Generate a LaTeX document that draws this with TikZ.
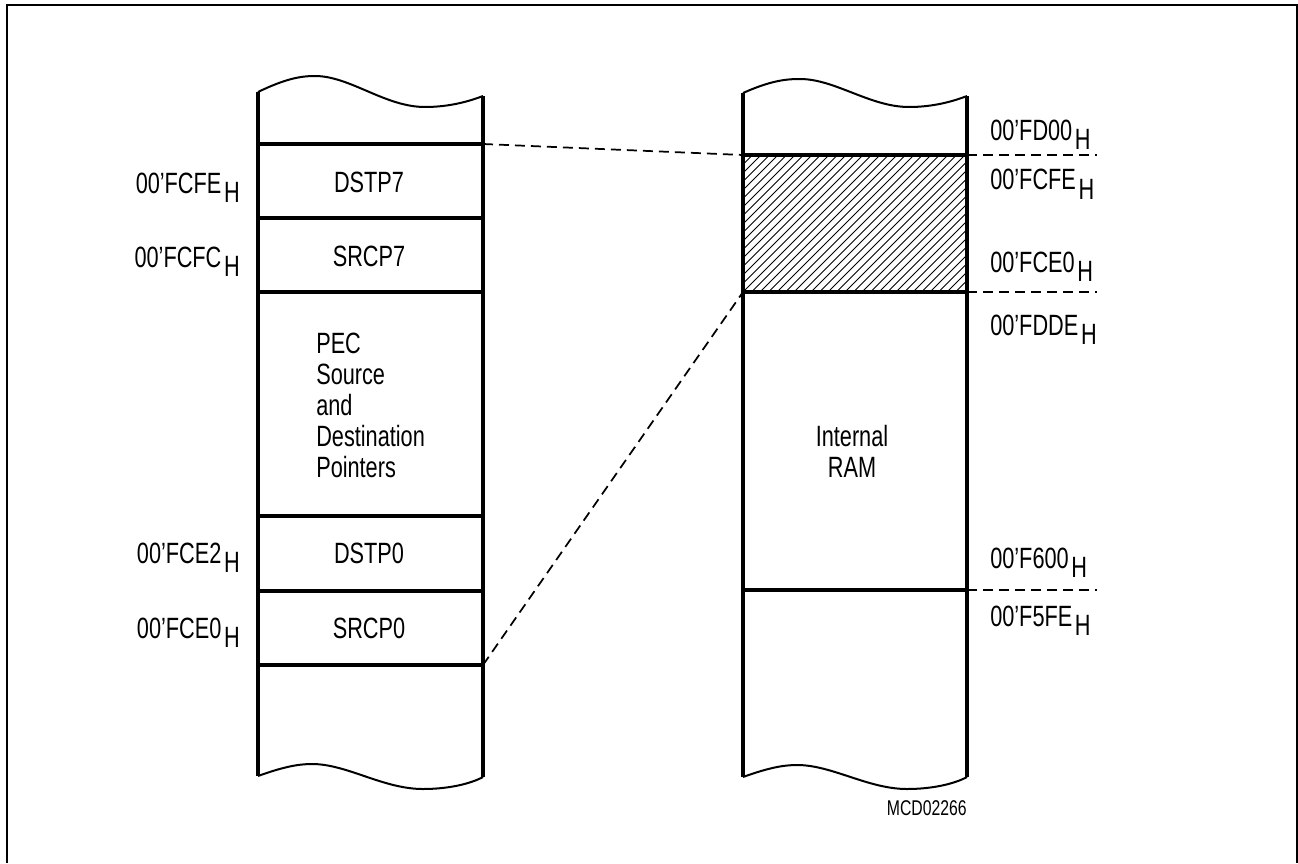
\documentclass[tikz,border=0pt]{standalone}
\usepackage{fontspec}
\setmainfont{Liberation Sans}[FakeStretch=0.74]
\newcommand\addr[1]{#1\kern2pt\raisebox{-6.75pt}{H}}
\begin{document}
\begin{tikzpicture}[x=0.75pt,y=-0.75pt,
  frame/.style={line width=2.2pt},
  wall/.style={line width=3.2pt},
  sep/.style={line width=3.4pt},
  thinsep/.style={line width=2.6pt},
  wave/.style={line width=1.5pt},
  guide/.style={line width=1.3pt, dash pattern=on 7.5pt off 4.5pt},
  hatch/.style={line width=0.65pt},
  txt/.style={inner sep=0pt, font=\fontsize{22}{23.25}\selectfont},
  small/.style={inner sep=0pt, font=\fontsize{16}{18}\selectfont}]
\useasboundingbox (0,0) rectangle (1298,863);
% outer frame
\draw[frame] (7,863) -- (7,5) -- (1297,5) -- (1297,863);

% hatching of the mapped area
\begin{scope}
  \clip (743,155) rectangle (967,292);
  \foreach \i in {-18,...,30} \draw[hatch] (743+\i*8.5,292) -- ++(140,-140);
\end{scope}

% ---------- left column ----------
\coordinate (LTL) at (258,92);
\coordinate (LTR) at (483,96);
\coordinate (LBL) at (258,776);
\coordinate (LBR) at (483,777);
\draw[wave] (LTL) .. controls (285,79) and (300,76) .. (315,76)
  .. controls (350,76) and (385,107) .. (425,107)
  .. controls (450,107) and (470,101) .. (LTR);
\draw[wave] (LBL) .. controls (283,767) and (298,764) .. (312,764)
  .. controls (347,764) and (383,789) .. (423,789)
  .. controls (448,789) and (470,784) .. (LBR);
\draw[wall] (LTL) -- (LBL);
\draw[wall] (LTR) -- (LBR);
\coordinate (L1) at (483,144);
\coordinate (L6) at (483,665);
\draw[sep] (258,144) -- (L1);
\draw[thinsep] (258,218) -- (483,218);
\draw[sep] (258,292) -- (483,292);
\draw[thinsep] (258,516) -- (483,516);
\draw[sep] (258,591) -- (483,591);
\draw[sep] (258,665) -- (L6);

\node[txt, anchor=base] (dstp7) at (369,192) {DSTP7};
\node[txt, anchor=base] (srcp7) at (369,266) {SRCP7};
\node[txt, anchor=west, align=left] (pec) at (316,405)
  {PEC\\Source\\and\\Destination\\Pointers};
\node[txt, anchor=base] (dstp0) at (369,563) {DSTP0};
\node[txt, anchor=base] (srcp0) at (369,638) {SRCP0};

\node[txt, anchor=base east] (a1) at (240,193) {\addr{00'FCFE}};
\node[txt, anchor=base east] (a2) at (240,267) {\addr{00'FCFC}};
\node[txt, anchor=base east] (a3) at (240,563) {\addr{00'FCE2}};
\node[txt, anchor=base east] (a4) at (240,638) {\addr{00'FCE0}};

% ---------- right column ----------
\coordinate (RTL) at (743,93);
\coordinate (RTR) at (967,96);
\coordinate (RBL) at (743,777);
\coordinate (RBR) at (967,777);
\draw[wave] (RTL) .. controls (770,81) and (785,79) .. (800,79)
  .. controls (835,79) and (870,107) .. (909,107)
  .. controls (934,107) and (954,101) .. (RTR);
\draw[wave] (RBL) .. controls (768,768) and (783,765) .. (797,765)
  .. controls (832,765) and (868,789) .. (907,789)
  .. controls (932,789) and (954,784) .. (RBR);
\draw[wall] (RTL) -- (RBL);
\draw[wall] (RTR) -- (RBR);
\coordinate (R1) at (743,155);
\coordinate (R2) at (743,292);
\coordinate (R1e) at (967,155);
\coordinate (R2e) at (967,292);
\coordinate (R3e) at (967,590);
\coordinate (D1) at (1097,155);
\coordinate (D2) at (1097,292);
\coordinate (D3) at (1097,590);
\draw[sep] (R1) -- (R1e);
\draw[sep] (R2) -- (R2e);
\draw[sep] (743,590) -- (R3e);

\node[txt, align=center] (ram) at (852,451) {Internal\\RAM};

\node[txt, anchor=base west] (b1) at (990,141) {\addr{00'FD00}};
\node[txt, anchor=base west] (b2) at (990,190) {\addr{00'FCFE}};
\node[txt, anchor=base west] (b3) at (990,272) {\addr{00'FCE0}};
\node[txt, anchor=base west] (b4) at (990,335) {\addr{00'FDDE}};
\node[txt, anchor=base west] (b5) at (990,568) {\addr{00'F600}};
\node[txt, anchor=base west] (b6) at (990,626) {\addr{00'F5FE}};

\node[small, anchor=base east] (id) at (967,815) {MCD02266};

% ---------- dashed guides ----------
\draw[guide] (L1) -- (R1);
\draw[guide] (L6) -- (R2);
\draw[guide] (R1e) -- (D1);
\draw[guide] (R2e) -- (D2);
\draw[guide] (R3e) -- (D3);
\end{tikzpicture}
\end{document}
